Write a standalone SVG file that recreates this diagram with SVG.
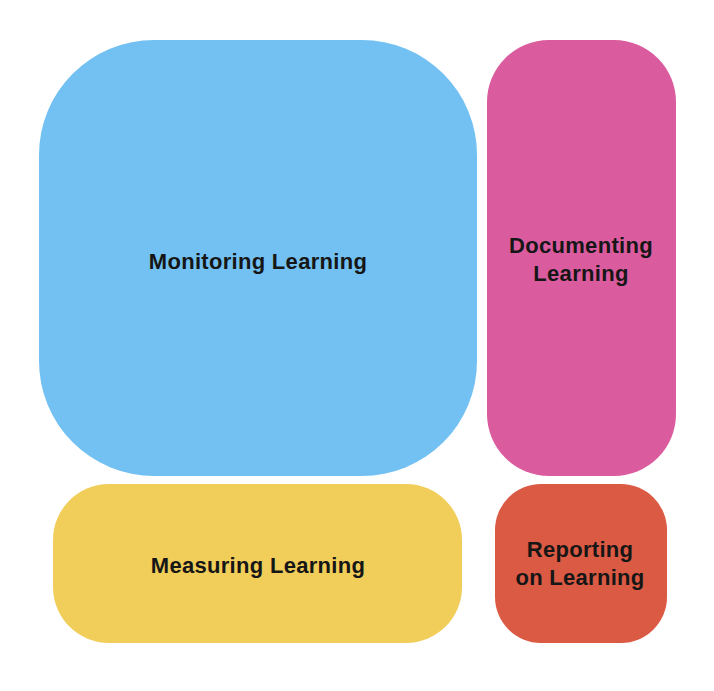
<svg xmlns="http://www.w3.org/2000/svg" width="714" height="691" viewBox="0 0 714 691">
<style>
.t{font-family:"Liberation Sans",Arial,sans-serif;font-weight:bold;font-size:22px;letter-spacing:0.3px;fill:#161616;text-anchor:middle}
</style>
<rect width="714" height="691" fill="#ffffff"/>
<g id="monitoring">
<rect x="39" y="40" width="438" height="436" rx="115" ry="115" fill="#72C1F2"/>
<text class="t" x="258" y="269">Monitoring Learning</text>
</g>
<g id="documenting">
<rect x="487" y="40" width="189" height="436" rx="62" ry="62" fill="#DB5C9E"/>
<text class="t" x="581" y="253">Documenting</text>
<text class="t" x="581" y="281">Learning</text>
</g>
<g id="measuring">
<rect x="53" y="484" width="409" height="159" rx="56" ry="56" fill="#F1CD5A"/>
<text class="t" x="258" y="573">Measuring Learning</text>
</g>
<g id="reporting">
<rect x="495" y="484" width="172" height="159" rx="46" ry="46" fill="#DB5A44"/>
<text class="t" x="580" y="557">Reporting</text>
<text class="t" x="580" y="585">on Learning</text>
</g>
<g id="connectors"></g>
</svg>
